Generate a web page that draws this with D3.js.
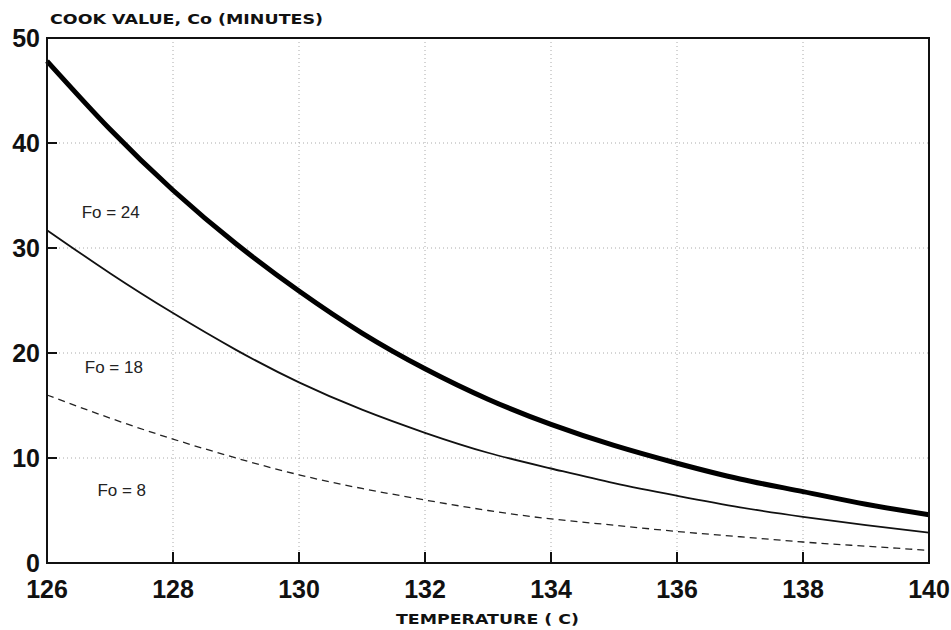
<!DOCTYPE html>
<html><head><meta charset="utf-8">
<script src="https://cdn.jsdelivr.net/npm/d3@7"></script>
<style>body{margin:0;background:#fff}</style>
</head><body>
<svg id="c" width="951" height="630"></svg>
<script>
const temps = [126,127,128,129,130,131,132,133,134,135,136,137,138,139,140];
const fo24 = [47.8,41.3,35.5,30.4,25.9,21.9,18.5,15.6,13.2,11.2,9.5,8.0,6.8,5.6,4.6];
const fo18 = [31.7,27.6,23.8,20.3,17.2,14.6,12.4,10.5,9.0,7.6,6.4,5.3,4.4,3.6,2.9];
const fo8  = [16.0,13.8,11.8,10.0,8.4,7.1,6.0,5.0,4.2,3.6,3.0,2.5,2.0,1.6,1.2];
const xTicks = [126,128,130,132,134,136,138,140];
const yTicks = [0,10,20,30,40,50];
const labels = [{text:"Fo = 24", t:126.55, v:32.9},{text:"Fo = 18", t:126.6, v:18.1},{text:"Fo = 8", t:126.8, v:6.4}];

const svg = d3.select("#c");
const L=47, R=929, T=38, B=563;
const x = d3.scaleLinear().domain([126,140]).range([L,R]);
const y = d3.scaleLinear().domain([0,50]).range([B,T]);

// grid
const g = svg.append("g");
g.selectAll(".gx").data(xTicks.slice(1,-1)).join("line")
  .attr("x1",d=>x(d)).attr("x2",d=>x(d)).attr("y1",T).attr("y2",B)
  .attr("stroke","#aaa").attr("stroke-width",1).attr("stroke-dasharray","1,3");
g.selectAll(".gy").data(yTicks.slice(1,-1)).join("line")
  .attr("x1",L).attr("x2",R).attr("y1",d=>y(d)).attr("y2",d=>y(d))
  .attr("stroke","#aaa").attr("stroke-width",1).attr("stroke-dasharray","1,3");

// inward ticks
g.selectAll(".tx").data(xTicks.slice(1,-1)).join("line")
  .attr("x1",d=>x(d)).attr("x2",d=>x(d)).attr("y1",B).attr("y2",B-11)
  .attr("stroke","#111").attr("stroke-width",2);
g.selectAll(".ty").data(yTicks.slice(1,-1)).join("line")
  .attr("x1",L).attr("x2",L+10).attr("y1",d=>y(d)).attr("y2",d=>y(d))
  .attr("stroke","#111").attr("stroke-width",2);

// curves
const line = d3.line().x((d,i)=>x(temps[i])).y(d=>y(d)).curve(d3.curveNatural);
svg.append("path").attr("d",line(fo8)).attr("fill","none").attr("stroke","#222").attr("stroke-width",1.3).attr("stroke-dasharray","7,5");
svg.append("path").attr("d",line(fo18)).attr("fill","none").attr("stroke","#111").attr("stroke-width",1.8);
svg.append("path").attr("d",line(fo24)).attr("fill","none").attr("stroke","#000").attr("stroke-width",5);

// frame
svg.append("rect").attr("x",L).attr("y",T).attr("width",R-L).attr("height",B-T)
  .attr("fill","none").attr("stroke","#111").attr("stroke-width",2);

// tick labels
svg.selectAll(".xl").data(xTicks).join("text")
  .attr("x",d=>x(d)).attr("y",B+35).attr("text-anchor","middle")
  .attr("font-family","Liberation Sans, Arial, sans-serif").attr("font-weight","bold").attr("font-size",25)
  .attr("fill","#111").text(d=>d);
svg.selectAll(".yl").data(yTicks).join("text")
  .attr("x",L-7).attr("y",d=>y(d)+9).attr("text-anchor","end")
  .attr("font-family","Liberation Sans, Arial, sans-serif").attr("font-weight","bold").attr("font-size",25)
  .attr("fill","#111").text(d=>d);

// axis titles
svg.append("text").attr("x",50).attr("y",24).attr("font-family","DejaVu Sans, sans-serif")
  .attr("font-weight","bold").attr("font-size",14).attr("textLength",273).attr("lengthAdjust","spacingAndGlyphs").attr("fill","#111")
  .text("COOK VALUE, Co (MINUTES)");
svg.append("text").attr("x",396).attr("y",624).attr("font-family","DejaVu Sans, sans-serif")
  .attr("font-weight","bold").attr("font-size",14).attr("textLength",183).attr("lengthAdjust","spacingAndGlyphs").attr("fill","#111")
  .text("TEMPERATURE ( C)");

// curve labels
svg.selectAll(".cl").data(labels).join("text")
  .attr("x",d=>x(d.t)).attr("y",d=>y(d.v)).attr("font-family","Liberation Sans, Arial, sans-serif")
  .attr("font-size",17).attr("fill","#222").text(d=>d.text);
</script>
</body></html>
